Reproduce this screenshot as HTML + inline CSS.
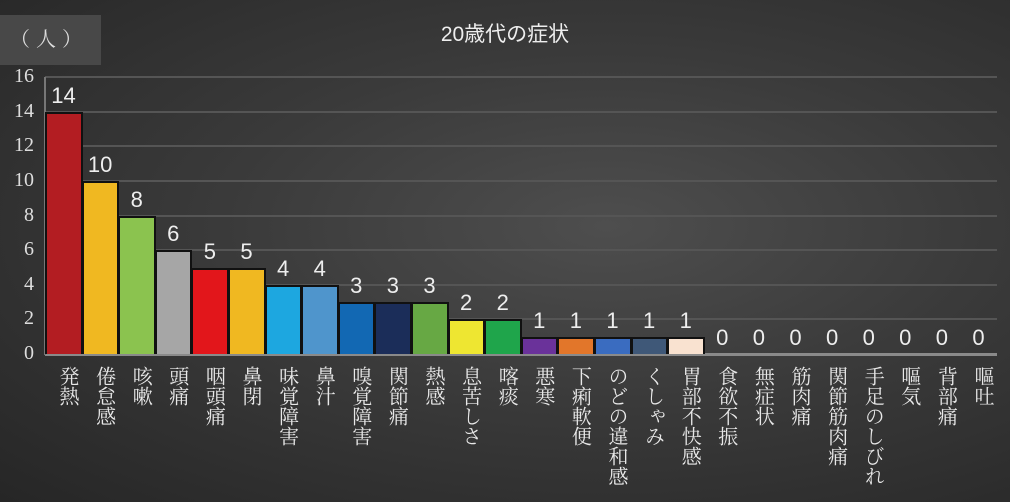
<!DOCTYPE html>
<html><head><meta charset="utf-8"><style>
body{margin:0;width:1010px;height:502px;overflow:hidden;background:radial-gradient(ellipse at 60% 45%,#4e4e4e 0%,#3a3a3a 45%,#262626 100%);font-family:"Liberation Sans","Noto Sans CJK JP",sans-serif;position:relative}
.box{position:absolute;left:0;top:15px;width:101px;height:50px;background:#484848;color:#ddd;font-family:"Liberation Serif","Noto Serif CJK SC",serif;font-size:20px;line-height:50px;padding-left:10px;box-sizing:border-box;letter-spacing:6px}
.title{position:absolute;left:0;width:1010px;top:18px;text-align:center;color:#eee;font-size:21px}
.yt{position:absolute;left:0;width:34px;text-align:right;color:#ddd;font-family:"Liberation Serif",serif;font-size:20px}
.g{position:absolute;left:45px;width:952px;height:2px;background:#555}
.bar{position:absolute;box-sizing:border-box;border:2px solid #111;border-bottom:none}
.v{position:absolute;width:37px;text-align:center;color:#eee;font-size:22px}
.lb{position:absolute;top:366px;height:136px;writing-mode:vertical-rl;text-orientation:upright;white-space:nowrap;color:#e8e8e8;font-family:"Liberation Serif","Noto Serif CJK SC",serif;font-size:20px;line-height:37px;width:37px;text-align:start}
</style></head><body>
<div class="box">（人）</div>
<div class="title">20歳代の症状</div>
<div id="c"></div>
<script>
var d=[["発熱",14,"#b31d22"],["倦怠感",10,"#f0b821"],["咳嗽",8,"#8bc34f"],["頭痛",6,"#a6a6a6"],["咽頭痛",5,"#e2161b"],["鼻閉",5,"#f0b821"],["味覚障害",4,"#1da7e0"],["鼻汁",4,"#4f95cc"],["嗅覚障害",3,"#1268b3"],["関節痛",3,"#1b2d59"],["熱感",3,"#67a844"],["息苦しさ",2,"#eee631"],["喀痰",2,"#1fa54b"],["悪寒",1,"#6a329a"],["下痢軟便",1,"#e2762a"],["のどの違和感",1,"#3a6cc0"],["くしゃみ",1,"#3f5878"],["胃部不快感",1,"#f9e2d0"],["食欲不振",0],["無症状",0],["筋肉痛",0],["関節筋肉痛",0],["手足のしびれ",0],["嘔気",0],["背部痛",0],["嘔吐",0]];
var h="",b=354,u=17.3,s=36.6,x0=45;
for(var i=0;i<=8;i++){var y=b-i*2*u;h+='<div class="g" style="top:'+(y-1)+'px;'+(i==0?'background:#8a8a8a;height:3px':'')+'"></div><div class="yt" style="top:'+(y-12)+'px">'+(i*2)+'</div>';}
h+='<div style="position:absolute;left:44px;top:77px;width:2px;height:278px;background:#777"></div>';
d.forEach(function(e,i){var x=x0+i*s,ht=e[1]*u;
if(e[1]>0)h+='<div class="bar" style="left:'+x+'px;top:'+(b-ht)+'px;width:'+(s+1)+'px;height:'+ht+'px;background:'+e[2]+'"></div>';
h+='<div class="v" style="left:'+x+'px;top:'+(b-ht-29)+'px">'+e[1]+'</div>';
h+='<div class="lb" style="left:'+(x+3)+'px">'+e[0]+'</div>';});
document.getElementById("c").innerHTML=h;
</script>
</body></html>
